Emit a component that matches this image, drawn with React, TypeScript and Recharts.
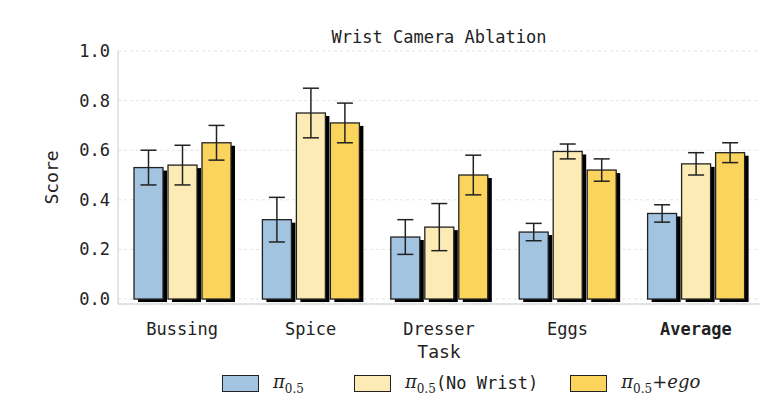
import React from 'react';
import { BarChart, Bar, XAxis, YAxis, CartesianGrid, ErrorBar } from 'recharts';

const tasks = ['Bussing', 'Spice', 'Dresser', 'Eggs', 'Average'];
const base = [0.53, 0.32, 0.25, 0.27, 0.345];
const baseErr = [0.07, 0.09, 0.07, 0.035, 0.035];
const noWrist = [0.54, 0.75, 0.29, 0.595, 0.545];
const noWristErr = [0.08, 0.1, 0.095, 0.03, 0.045];
const ego = [0.63, 0.71, 0.5, 0.52, 0.59];
const egoErr = [0.07, 0.08, 0.08, 0.045, 0.04];
const yTicks = [0, 0.2, 0.4, 0.6, 0.8, 1.0];

const data = tasks.map((t, i) => ({
  task: t, a: base[i], ae: baseErr[i], b: noWrist[i], be: noWristErr[i], c: ego[i], ce: egoErr[i],
}));

const mono = '"DejaVu Sans Mono", monospace';
const colors = ['#a2c4e0', '#fdebb5', '#fad45c'];

const Shadow = (props: any) => {
  const { x, y, width, height, fill } = props;
  if (height <= 0) return null;
  return (
    <g>
      <rect x={x + 4} y={y + 3} width={width} height={height} fill="#000" />
      <rect x={x} y={y} width={width} height={height} fill={fill} stroke="#222" strokeWidth={1.3} />
    </g>
  );
};

const XTick = (props: any) => {
  const { x, y, payload } = props;
  return (
    <text x={x} y={y + 23} textAnchor="middle" fontFamily={mono} fontSize={17} fill="#222"
      fontWeight={payload.value === 'Average' ? 'bold' : 'normal'}>{payload.value}</text>
  );
};

const Pi = ({ children }: any) => (
  <span style={{ fontFamily: '"DejaVu Serif", "Liberation Serif", serif', fontStyle: 'italic', fontSize: 18 }}>
    π<sub style={{ fontStyle: 'normal', fontSize: 12 }}>0.5</sub>{children}
  </span>
);

export default function App() {
  const sw = (c: string) => (
    <span style={{ display: 'inline-block', width: 35, height: 15, background: c, border: '1.5px solid #222', marginRight: 14, verticalAlign: 'middle' }} />
  );
  return (
    <div style={{ width: 781, height: 416, position: 'relative', margin: -8, background: '#fff' }}>
      <div style={{ position: 'absolute', top: 27, left: 118, width: 642, textAlign: 'center', fontFamily: mono, fontSize: 17, color: '#222' }}>
        Wrist Camera Ablation
      </div>
      <BarChart width={781} height={416} data={data} margin={{ top: 51, right: 21, left: 58, bottom: 42 }}
        barCategoryGap={15} barGap={5}>
        <CartesianGrid vertical={false} stroke="#e4e4e4" strokeDasharray="3 3" />
        <XAxis dataKey="task" tick={<XTick />} tickLine={false} axisLine={{ stroke: '#ccc' }} height={70}
          label={{ value: 'Task', position: 'insideBottom', offset: 16, fontFamily: mono, fontSize: 18, fill: '#222' }} />
        <XAxis xAxisId="top" orientation="top" dataKey="task" tick={false} tickLine={false} axisLine={{ stroke: '#ccc' }} height={0} />
        <YAxis domain={[-0.02, 1.0]} ticks={yTicks} tickFormatter={(v: number) => v.toFixed(1)}
          tick={{ fontFamily: mono, fontSize: 17, fill: '#222' }} tickLine={false} axisLine={{ stroke: '#ccc' }} width={60}
          label={{ value: 'Score', angle: -90, position: 'insideLeft', offset: 0, dx: -6, fontFamily: mono, fontSize: 18, fill: '#222', style: { textAnchor: 'middle' } }} />
        <YAxis yAxisId="r" orientation="right" domain={[-0.02, 1.0]} tick={false} tickLine={false} axisLine={{ stroke: '#ccc' }} width={0} />
        <Bar dataKey="a" fill={colors[0]} barSize={29} shape={<Shadow />} isAnimationActive={false}>
          <ErrorBar dataKey="ae" width={8} stroke="#222" strokeWidth={1.5} />
        </Bar>
        <Bar dataKey="b" fill={colors[1]} barSize={29} shape={<Shadow />} isAnimationActive={false}>
          <ErrorBar dataKey="be" width={8} stroke="#222" strokeWidth={1.5} />
        </Bar>
        <Bar dataKey="c" fill={colors[2]} barSize={29} shape={<Shadow />} isAnimationActive={false}>
          <ErrorBar dataKey="ce" width={8} stroke="#222" strokeWidth={1.5} />
        </Bar>
      </BarChart>
      <div style={{ position: 'absolute', top: 371, left: 222, display: 'flex', alignItems: 'center', fontFamily: mono, fontSize: 17, color: '#222' }}>
        {sw(colors[0])}<Pi />
        <span style={{ width: 50 }} />
        {sw(colors[1])}<Pi /><span>(No Wrist)</span>
        <span style={{ width: 32 }} />
        {sw(colors[2])}<Pi>+ego</Pi>
      </div>
    </div>
  );
}
